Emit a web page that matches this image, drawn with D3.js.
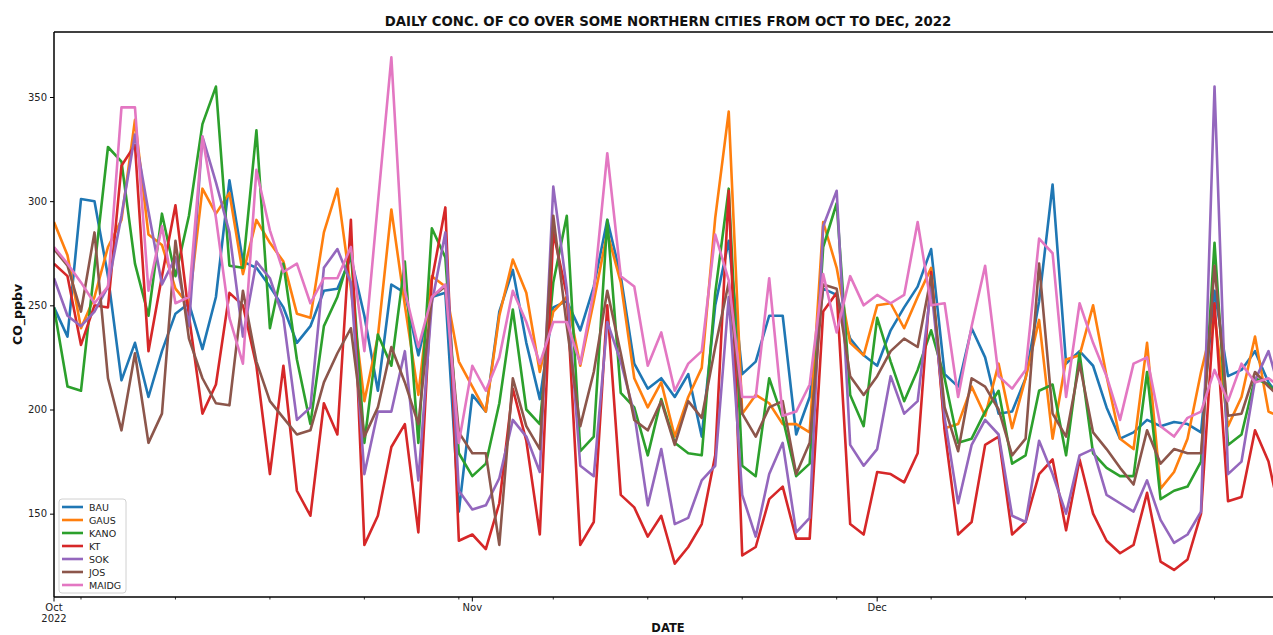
<!DOCTYPE html>
<html>
<head>
<meta charset="utf-8">
<script src="https://cdn.jsdelivr.net/npm/d3@7"></script>
<style>
  html, body { margin: 0; padding: 0; background: #fff; }
  svg { display: block; font-family: "DejaVu Sans", sans-serif; }
</style>
</head>
<body>
<svg id="chart" width="1273" height="635"></svg>
<script>
// ---- data (daily, 1 Oct 2022 .. 31 Dec 2022) ----
const startDate = "2022-10-01";
const seriesNames = ["BAU", "GAUS", "KANO", "KT", "SOK", "JOS", "MAIDG"];

const BAU = [249,235,301,300,264,214,232,206,228,246,
  251,229,254,310,271,268,259,249,232,240,
  257,258,273,245,209,260,256,226,254,256,
  151,207,199,247,267,232,205,249,252,238,
  259,291,264,222,210,215,206,217,187,250,
  281,217,223,245,245,188,206,258,255,234,
  226,221,238,249,259,277,217,211,239,225,
  198,199,215,252,308,222,228,221,201,186,
  189,195,192,194,193,189,257,216,219,228,
  213,205];
const GAUS = [290,274,239,254,278,291,339,284,279,258,
  250,306,294,304,265,291,280,271,246,244,
  285,306,258,204,235,296,250,207,264,259,
  223,211,199,245,272,256,218,247,254,221,
  252,285,261,215,201,213,187,206,220,292,
  343,198,207,203,193,193,189,290,268,232,
  226,250,251,239,254,268,191,193,211,197,
  222,191,215,243,186,224,226,250,216,186,
  181,232,162,170,186,218,245,192,206,235,
  199,196];
const KANO = [249,211,209,268,326,319,270,245,294,264,
  293,337,355,269,268,334,239,270,224,193,
  240,254,276,184,236,221,271,184,287,273,
  179,168,174,203,248,200,193,261,293,180,
  187,291,208,201,178,205,184,179,178,256,
  306,173,168,215,196,168,174,278,299,207,
  192,244,223,204,219,238,215,184,186,199,
  209,174,178,209,212,178,227,179,172,168,
  168,218,157,161,163,175,280,183,188,215,
  212,205];
const KT = [270,264,231,250,249,317,327,228,264,298,
  245,198,212,256,250,221,169,221,161,149,
  203,188,291,135,149,182,193,141,262,297,
  137,140,133,155,210,185,140,285,255,135,
  146,250,159,153,139,149,126,134,145,178,
  305,130,134,157,163,138,138,247,256,145,
  140,170,169,165,179,266,190,140,146,183,
  187,140,146,169,176,142,176,150,137,131,
  135,160,127,123,128,150,251,156,158,190,
  175,145];
const SOK = [263,245,240,247,259,293,332,295,260,273,
  240,331,309,285,235,271,263,244,195,201,
  268,277,261,169,199,199,228,166,251,285,
  161,152,154,167,195,187,170,307,258,173,
  168,242,223,198,154,181,145,148,166,173,
  254,159,139,169,184,141,148,288,305,183,
  173,181,216,198,204,259,196,155,183,195,
  188,149,146,185,169,150,178,181,159,155,
  151,166,147,136,140,151,355,169,175,214,
  228,205];
const JOS = [277,269,247,285,215,190,227,184,198,281,
  234,215,203,202,257,223,204,196,188,190,
  213,227,239,187,201,230,213,193,254,259,
  189,179,179,135,215,192,181,293,240,192,
  218,257,227,195,190,204,183,204,196,230,
  261,198,187,201,204,169,184,260,258,216,
  207,216,228,234,230,264,201,180,215,211,
  200,178,186,270,198,187,222,189,181,172,
  164,190,174,181,179,179,269,197,198,218,
  211,205];
const MAIDG = [278,270,261,251,259,345,345,257,288,251,
  254,331,292,244,222,315,286,266,270,251,
  263,263,278,228,299,369,257,230,254,260,
  184,221,209,225,257,242,222,242,242,222,
  257,323,264,259,221,237,209,222,228,284,
  262,206,206,263,197,199,212,265,237,264,
  250,255,251,255,290,250,251,206,240,269,
  216,210,219,282,275,206,251,232,216,195,
  222,225,192,187,196,199,219,204,222,213,
  215,210];

const seriesValues = [BAU, GAUS, KANO, KT, SOK, JOS, MAIDG];
const seriesColors = ["#1f77b4", "#ff7f0e", "#2ca02c", "#d62728", "#9467bd", "#8c564b", "#e377c2"];
const yTicks = [150, 200, 250, 300, 350];
const titleText = "DAILY CONC. OF CO OVER SOME NORTHERN CITIES FROM OCT TO DEC, 2022";
const xLabel = "DATE";
const yLabel = "CO_ppbv";

// ---- layout ----
const svg = d3.select("#chart");
const plot = { left: 54, right: 1282, top: 32, bottom: 597 };

const t0 = new Date(startDate + "T00:00:00Z");
const dates = BAU.map((_, i) => d3.utcDay.offset(t0, i));

const x = d3.scaleUtc()
  .domain([dates[0], dates[dates.length - 1]])
  .range([plot.left, plot.right]);
const y = d3.scaleLinear()
  .domain([110, 381.2])
  .range([plot.bottom, plot.top]);

// clip
svg.append("defs").append("clipPath").attr("id", "clip")
  .append("rect")
  .attr("x", plot.left).attr("y", plot.top)
  .attr("width", plot.right - plot.left).attr("height", plot.bottom - plot.top);

// lines
const line = d3.line()
  .x((d, i) => x(dates[i]))
  .y(d => y(d));

const gLines = svg.append("g").attr("clip-path", "url(#clip)");
seriesValues.forEach((vals, k) => {
  gLines.append("path")
    .datum(vals)
    .attr("fill", "none")
    .attr("stroke", seriesColors[k])
    .attr("stroke-width", 2.6)
    .attr("stroke-linejoin", "round")
    .attr("stroke-linecap", "butt")
    .attr("d", line);
});

// spines
const spines = svg.append("g").attr("stroke", "#000").attr("stroke-width", 1.5).attr("fill", "none");
spines.append("line").attr("x1", plot.left).attr("x2", plot.left).attr("y1", plot.top).attr("y2", plot.bottom);
spines.append("line").attr("x1", plot.left).attr("x2", plot.right).attr("y1", plot.bottom).attr("y2", plot.bottom);
spines.append("line").attr("x1", plot.left).attr("x2", plot.right).attr("y1", plot.top).attr("y2", plot.top);
spines.append("line").attr("x1", plot.right).attr("x2", plot.right).attr("y1", plot.top).attr("y2", plot.bottom);

// y axis
const yAxis = d3.axisLeft(y).tickValues(yTicks).tickSize(4).tickPadding(3).tickFormat(d3.format("d"));
const gy = svg.append("g").attr("transform", `translate(${plot.left},0)`).call(yAxis);
gy.select(".domain").remove();
gy.selectAll("text").attr("font-size", 10).attr("fill", "#222").attr("font-family", "DejaVu Sans");
gy.selectAll("line").attr("stroke", "#000");

// x axis: major ticks at month starts, minor at Mondays
const majorTicks = d3.utcMonth.range(dates[0], d3.utcDay.offset(dates[dates.length - 1], 1));
const minorTicks = d3.utcMonday.range(dates[0], d3.utcDay.offset(dates[dates.length - 1], 1));
const gx = svg.append("g");
gx.selectAll("line.minor").data(minorTicks).join("line")
  .attr("class", "minor")
  .attr("x1", d => x(d)).attr("x2", d => x(d))
  .attr("y1", plot.bottom).attr("y2", plot.bottom + 2.5)
  .attr("stroke", "#000").attr("stroke-width", 0.8);
gx.selectAll("line.major").data(majorTicks).join("line")
  .attr("class", "major")
  .attr("x1", d => x(d)).attr("x2", d => x(d))
  .attr("y1", plot.bottom).attr("y2", plot.bottom + 4.5)
  .attr("stroke", "#000").attr("stroke-width", 1);
const monthFmt = d3.utcFormat("%b");
const labels = gx.selectAll("text.major").data(majorTicks).join("text")
  .attr("class", "major")
  .attr("x", d => x(d))
  .attr("y", plot.bottom + 14)
  .attr("text-anchor", "middle")
  .attr("font-size", 10)
  .attr("fill", "#222");
labels.append("tspan").attr("x", d => x(d)).text(d => monthFmt(d));
labels.filter((d, i) => i === 0).append("tspan")
  .attr("x", d => x(d)).attr("dy", 10.5).text(d => d.getUTCFullYear());

// title and axis labels
svg.append("text")
  .attr("x", (plot.left + plot.right) / 2).attr("y", 26)
  .attr("text-anchor", "middle")
  .attr("font-size", 13.3).attr("font-weight", "bold").attr("fill", "#111")
  .text(titleText);
svg.append("text")
  .attr("x", (plot.left + plot.right) / 2).attr("y", 632)
  .attr("text-anchor", "middle")
  .attr("font-size", 11.5).attr("font-weight", "bold").attr("fill", "#111")
  .text(xLabel);
svg.append("text")
  .attr("transform", `translate(22,${(plot.top + plot.bottom) / 2}) rotate(-90)`)
  .attr("text-anchor", "middle")
  .attr("font-size", 12.5).attr("font-weight", "bold").attr("fill", "#111")
  .text(yLabel);

// legend
const lg = svg.append("g").attr("transform", "translate(59,499)");
lg.append("rect")
  .attr("x", 0).attr("y", 0).attr("width", 67).attr("height", 94).attr("rx", 3)
  .attr("fill", "#fff").attr("fill-opacity", 0.85)
  .attr("stroke", "#d0d0d0").attr("stroke-width", 1);
seriesNames.forEach((name, k) => {
  const cy = 8 + k * 13;
  lg.append("line")
    .attr("x1", 3).attr("x2", 24).attr("y1", cy).attr("y2", cy)
    .attr("stroke", seriesColors[k]).attr("stroke-width", 2.6);
  lg.append("text")
    .attr("x", 30).attr("y", cy + 3.5)
    .attr("font-size", 9.5).attr("fill", "#222")
    .text(name);
});
</script>
</body>
</html>
